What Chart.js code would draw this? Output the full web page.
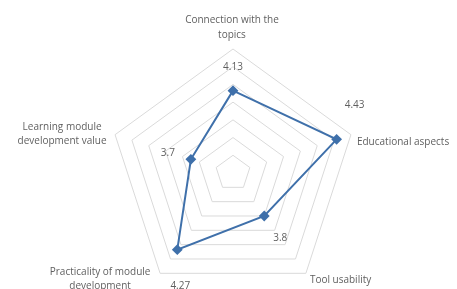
<!DOCTYPE html>
<html>
<head>
<meta charset="utf-8">
<script src="https://cdn.jsdelivr.net/npm/chart.js@4/dist/chart.umd.min.js"></script>
<style>
html,body{margin:0;padding:0;overflow:hidden;background:#fff;width:457px;height:289px;}
#wrap{position:absolute;left:0;top:0;width:457px;height:310px;}
</style>
</head>
<body>
<div id="wrap"><canvas id="c" width="457" height="310"></canvas></div>
<script>
const categories = [
  ["Connection with the", "topics"],
  ["Educational aspects"],
  ["Tool usability"],
  ["Practicality of module", "development"],
  ["Learning module", "development value"]
];
const values = [4.13, 4.43, 3.8, 4.27, 3.7];
const valueLabels = ["4.13", "4.43", "3.8", "4.27", "3.7"];
const scaleMin = 3.2, scaleMax = 4.6, tickCount = 8;

// label styling offsets (px) relative to vertex / point
const catOffsets = [
  {dx:-1, dy:-29, align:'center', lh:15},
  {dx:6, dy:7, align:'left', lh:13},
  {dx:4, dy:7, align:'left', lh:13},
  {dx:-60, dy:-1, align:'center', lh:14},
  {dx:-53, dy:-8, align:'center', lh:14}
];
const valOffsets = [
  {dx:0, dy:-23}, {dx:18, dy:-34}, {dx:16, dy:22}, {dx:3, dy:36}, {dx:-23, dy:-6}
];

const labelPlugin = {
  id: 'labels',
  afterDraw(chart) {
    const s = chart.scales.r;
    const ctx = chart.ctx;
    ctx.save();
    ctx.fillStyle = '#5f5f5f';
    ctx.font = '10px "Open Sans", "Liberation Sans", sans-serif';
    ctx.textBaseline = 'middle';
    categories.forEach((lines, i) => {
      const p = s.getPointPosition(i, s.drawingArea);
      const o = catOffsets[i];
      ctx.textAlign = o.align;
      lines.forEach((t, k) => ctx.fillText(t, p.x + o.dx, p.y + o.dy + k * o.lh));
    });
    ctx.textAlign = 'center';
    values.forEach((v, i) => {
      const p = s.getPointPositionForValue(i, v);
      const o = valOffsets[i];
      ctx.fillText(valueLabels[i], p.x + o.dx, p.y + o.dy);
    });
    ctx.restore();
  }
};

new Chart(document.getElementById('c'), {
  type: 'radar',
  data: {
    labels: categories,
    datasets: [{
      data: values,
      borderColor: '#3f70aa',
      backgroundColor: 'rgba(0,0,0,0)',
      borderWidth: 2,
      pointStyle: 'rectRot',
      pointRadius: 4,
      pointBackgroundColor: '#3f70aa',
      pointBorderColor: '#3f70aa',
      fill: false
    }]
  },
  options: {
    responsive: false,
    animation: false,
    layout: {padding: {left: 109, right: 100, top: 49, bottom: 13}},
    plugins: {legend: {display: false}, tooltip: {enabled: false}},
    scales: {
      r: {
        min: scaleMin, max: scaleMax,
        ticks: {display: false, count: tickCount},
        grid: {color: '#dadada', lineWidth: 1},
        angleLines: {display: false},
        pointLabels: {display: false}
      }
    }
  },
  plugins: [labelPlugin]
});
</script>
</body>
</html>
